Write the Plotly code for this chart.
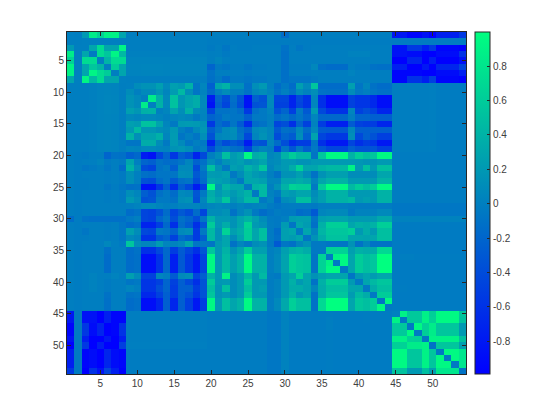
import numpy as np
import plotly.graph_objects as go

# Upper triangle of the matrix, one list per row, starting at the diagonal (values in hundredths)
r01 = [0, -1, 20, 85, 65, 90, 90, 30,
       -1, -1, -1, -1, -1, -1, -1, -1, -1, -1, -1,
       -1, -1, -1, -1, -1, -1, -1, -1, -1, -1, -15,
       -1, -1, -1, -1, -1, -1, -1, -1, -1, -1, -1, -1, -1, -1,
       -80, -80, -95, -95, -85, -100, -75, -75, -75, -55]
r02 = [-1, 0, 0, 0, 0, 0, 0,
       -1, -1, -1, -1, -1, -1, -1, -1, -1, -1, -1,
       -2, -2, -2, -2, -2, -2, -2, -2, -2, -2, -2,
       -2, -2, -2, -2, -2, -2, -2, -2, -2, -2, -2, -2, -2, -2,
       -3, -3, -3, -3, -3, -3, -3, -3, -3, -3]
r03 = [0, 30, 72, 30, 30, 92,
       -1, -1, -1, -1, -1, -1, -1, -1, -1, -1, -1,
       -4, -1, -7, -1, -2, -2, -1, -1, -1, -1, -10,
       -1, -7, -2, -1, -1, -1, -1, -1, -1, -1, -1, -1, -1, -1,
       -85, -85, -55, -55, -75, -55, -95, -95, -95, -100]
r04 = [-4, 72, 55, 92, 45,
       1, 1, 1, 1, 1, 1, 1, 1, 1, 1, 1,
       -1, 0, -4, -1, -1, -1, -1, -1, -1, -1, -12,
       -1, -1, -1, -1, -1, -1, -1, -1, 2, 2, 2, -1, -1, -1,
       -85, -85, -90, -90, -100, -100, -90, -90, -90, -60]
r05 = [0, 42, 72, 72,
       3, 3, 3, 3, 3, 3, 3, 3, 3, 3, 3,
       -1, 4, -1, -1, -1, -1, -1, -1, -1, -1, -12,
       -1, -1, -1, -1, -1, -1, -1, -1, -1, -1, -1, -1, -1, -1,
       -100, -100, -70, -70, -100, -75, -100, -100, -100, -85]
r06 = [0, 60, 30,
       4, 4, 5, 5, 5, 4, 4, 4, 4, 4, 4,
       -20, -4, -7, -2, -2, -7, -2, -2, -1, -1, -12,
       -2, -2, -2, 6, -12, -15, -15, -15, -1, -4, -4, -10, -12, -12,
       -75, -75, -100, -100, -80, -100, -70, -70, -70, -45]
r07 = [0, 30,
       3, 3, 4, 4, 4, 3, 3, 3, 3, 3, 3,
       -10, -1, -1, -1, -1, -2, -1, -1, -1, -1, -12,
       -1, -1, -1, 0, -1, -1, -1, -1, 3, -1, -1, -1, -1, -1,
       -95, -95, -95, -95, -100, -100, -90, -90, -90, -75]
r08 = [0,
       -1, -1, -1, -1, -1, -1, -1, -1, -1, -1, -1,
       -12, -4, -15, -4, -4, -7, -4, -4, -1, -1, -12,
       -7, -7, -7, -4, -1, -1, -1, -1, -1, -1, -1, -1, -1, -1,
       -95, -95, -60, -60, -75, -50, -95, -95, -95, -100]
r09 = [0, 10, 15, 15, 25, 8, 25, 20, 40, -8, 5,
       -25, 30, 40, 12, 12, -12, 12, 20, 0, -15, -5,
       -15, 25, 8, 55, -15, -15, -15, -15, 25, -8, 5, -10, -15, -15,
       -1, -1, -1, -1, -1, 0, -2, -2, -2, -2]
r10 = [0, 8, 8, 18, 5, 22, 45, 12, -8, 3,
       -18, 0, 10, 0, 0, -10, 5, 10, 3, -10, 0,
       -10, 10, 2, 12, -10, -12, -12, -12, 10, -5, 0, -8, -12, -12,
       -1, -1, -1, -1, -1, 0, -2, -2, -2, -2]
r11 = [0, 85, 38, 8, 52, 18, 28, 35, 8,
       -78, -20, -40, -12, -35, -85, -25, -35, 8, -45, -45,
       -72, -42, -60, 5, -62, -88, -88, -88, -48, -58, -58, -68, -88, -88,
       -1, -1, -1, -1, -1, 0, -2, -2, -2, -2]
r12 = [0, 40, 8, 52, 18, 28, 35, 8,
       -85, -25, -45, -15, -38, -85, -35, -32, 8, -48, -48,
       -72, -45, -60, 5, -62, -88, -88, -88, -48, -58, -58, -68, -88, -88,
       -1, -1, -1, -1, -1, 0, -2, -2, -2, -2]
r13 = [0, 5, 28, 12, 38, 10, 5,
       -45, -10, -10, -8, -15, -55, -12, -5, 3, -35, -20,
       -50, -5, -30, 22, -42, -60, -60, -60, 5, -48, -38, -48, -70, -70,
       -1, -1, -1, -1, -1, 0, -2, -2, -2, -2]
r14 = [0, 5, 8, 5, -5, 3,
       -22, -15, -5, -8, -8, -25, -5, -5, 0, -15, -8,
       -18, -8, -20, 5, -18, -18, -18, -18, 0, -20, -20, -25, -25, -25,
       -1, -1, -1, -1, -1, 0, -2, -2, -2, -2]
r15 = [-5, 20, 22, 20, 15,
       -55, -15, -25, -8, -28, -65, -15, -10, 0, -45, -38,
       -62, -22, -48, 2, -52, -75, -75, -75, -28, -48, -52, -52, -70, -70,
       -1, -1, -1, -1, -1, 0, -2, -2, -2, -2]
r16 = [0, -8, 8, 18,
       -25, -8, 8, 12, -12, -25, 8, 12, 5, -30, -12,
       -15, 8, -15, 8, -28, -30, -30, -30, 8, -25, -25, -25, -25, -25,
       -1, -1, -1, -1, -1, 0, -2, -2, -2, -2]
r17 = [0, -8, 12,
       -35, 5, 8, 10, -8, -42, 5, 15, 5, -40, -20,
       -28, 12, -25, 28, -45, -55, -55, -55, 12, -42, -25, -35, -50, -50,
       -1, -1, -1, -1, -1, 0, -2, -2, -2, -2]
r18 = [0, -5,
       -72, -22, -40, -30, -38, -78, -32, -35, 5, -15, -38,
       -62, -52, -52, -8, -62, -80, -80, -80, -45, -62, -52, -58, -80, -80,
       -1, -1, -1, -1, -1, 0, -2, -2, -2, -2]
r19 = [0,
       -42, -12, -5, -12, -15, -48, -5, 5, 0, -45, -8,
       -32, -5, -25, -5, -32, -45, -45, -45, -25, -35, -35, -35, -50, -50,
       -1, -1, -1, -1, -1, 0, -2, -2, -2, -2]
r20 = [0, 12, 50, 22, 30, 95, 35, 40, 5, 10, 40,
       60, 45, 45, -8, 55, 95, 95, 95, 40, 60, 50, 55, 95, 95,
       -2, -2, -2, -2, -2, -2, -2, -2, -2, -2]
r21 = [0, 15, 20, 25, 15, 20, 28, 8, 10, 20,
       20, 15, 15, 20, 20, 20, 20, 20, 20, 18, 15, 15, 20, 20,
       -2, -2, -2, -2, -2, -2, -2, -2, -2, -2]
r22 = [-5, 25, 20, 40, 30, 55, 5, 15, 20,
       35, 65, 30, 30, 40, 45, 45, 45, 90, 20, 50, 20, 50, 50,
       -2, -2, -2, -2, -2, -2, -2, -2, -2, -2]
r23 = [-5, 10, 30, 20, 15, 0, -10, 15,
       15, 25, 10, -10, 15, 25, 25, 25, 10, 10, 10, 10, 30, 30,
       -2, -2, -2, -2, -2, -2, -2, -2, -2, -2]
r24 = [-5, 30, 30, 25, 5, 5, 30,
       30, 35, 30, 5, 30, 40, 40, 40, 20, 20, 20, 20, 40, 40,
       -2, -2, -2, -2, -2, -2, -2, -2, -2, -2]
r25 = [-5, 40, 45, 0, 15, 40,
       65, 60, 60, -5, 60, 95, 95, 95, 45, 60, 50, 60, 95, 95,
       -2, -2, -2, -2, -2, -2, -2, -2, -2, -2]
r26 = [-5, 45, 2, -5, 25,
       20, 30, 30, 10, 25, 40, 40, 40, 20, 20, 20, 20, 40, 40,
       -2, -2, -2, -2, -2, -2, -2, -2, -2, -2]
r27 = [-5, 5, -15, 10,
       15, 50, 50, 15, 25, 40, 40, 40, 45, 20, 25, 20, 40, 40,
       -2, -2, -2, -2, -2, -2, -2, -2, -2, -2]
r28 = [-3, -8, -3,
       -2, -3, -3, -5, 0, 0, 0, 0, -2, -2, -2, -2, -2, -2,
       -6, -6, -6, -6, -6, -6, -6, -6, -6, -6]
r29 = [-2, -5,
       -5, -15, -12, -30, 5, 8, 8, 8, -5, 2, 2, 2, 8, 8,
       -6, -6, -6, -6, -6, -6, -6, -6, -6, -6]
r30 = [0,
       22, 25, 25, -8, 25, 28, 28, 28, 20, 20, 20, 20, 32, 32,
       2, 2, 2, 2, 2, 2, 2, 2, 2, 2]
r31 = [-8, 30, 22, -12, 38, 62, 62, 62, 30, 38, 35, 40, 62, 62,
       -3, -3, -3, -3, -3, -3, -3, -3, -3, -3]
r32 = [-5, 30, 5, 42, 55, 55, 55, 62, 20, 35, 20, 50, 50,
       -3, -3, -3, -3, -3, -3, -3, -3, -3, -3]
r33 = [-8, 15, 35, 52, 52, 52, 30, 30, 28, 30, 50, 50,
       -3, -3, -3, -3, -3, -3, -3, -3, -3, -3]
r34 = [-5, -5, -8, -8, -8, 15, -10, 5, -10, -10, -10,
       -3, -3, -3, -3, -3, -3, -3, -3, -3, -3]
r35 = [-5, 65, 65, 65, 25, 38, 35, 35, 70, 70,
       -3, -3, -3, -3, -3, -3, -3, -3, -3, -3]
r36 = [-5, 90, 95, 30, 60, 50, 55, 100, 100,
       -2, -1, -1, -2, -2, -2, -2, -2, -2, -2]
r37 = [-5, 95, 30, 60, 50, 55, 100, 100,
       -3, -3, -3, -3, -3, -3, -3, -3, -3, -3]
r38 = [-5, 30, 60, 50, 55, 100, 100,
       -3, -3, -3, -3, -3, -3, -3, -3, -3, -3]
r39 = [-8, 20, 30, 22, 30, 30,
       -3, -3, -3, -3, -3, -3, -3, -3, -3, -3]
r40 = [-5, 30, 45, 55, 55,
       -3, -3, -3, -3, -3, -3, -3, -3, -3, -3]
r41 = [-5, 35, 50, 50,
       -2, -2, -3, -3, -3, -3, -3, -3, -3, -3]
r42 = [-5, 60, 60,
       -3, -3, -3, -3, -3, -3, -3, -3, -3, -3]
r43 = [-8, 95,
       -3, -3, -3, -3, -3, -3, -3, -3, -3, -3]
r44 = [-5,
       -3, -3, -3, -3, -3, -3, -3, -3, -3, -3]
r45 = [0, 90, 58, 58, 88, 62, 95, 95, 95, 55]
r46 = [-5, 58, 58, 90, 65, 95, 95, 95, 52]
r47 = [-5, 95, 65, 85, 55, 55, 55, 20]
r48 = [-5, 62, 85, 55, 55, 55, 20]
r49 = [-5, 90, 90, 90, 90, 50]
r50 = [-10, 55, 55, 55, 25]
r51 = [-5, 95, 95, 80]
r52 = [-5, 95, 80]
r53 = [-5, 80]
r54 = [-10]

rows = [r01, r02, r03, r04, r05, r06, r07, r08, r09, r10, r11, r12, r13, r14,
        r15, r16, r17, r18, r19, r20, r21, r22, r23, r24, r25, r26, r27, r28,
        r29, r30, r31, r32, r33, r34, r35, r36, r37, r38, r39, r40, r41, r42,
        r43, r44, r45, r46, r47, r48, r49, r50, r51, r52, r53, r54]

axis_ticks = [5, 10, 15, 20, 25, 30, 35, 40, 45, 50]
cbar_ticks = [-0.8, -0.6, -0.4, -0.2, 0, 0.2, 0.4, 0.6, 0.8]
cbar_labels = ['-0.8', '-0.6', '-0.4', '-0.2', '0', '0.2', '0.4', '0.6', '0.8']

# mirror the triangle into a full matrix
n = len(rows)
z = np.zeros((n, n))
for i, row in enumerate(rows):
    assert len(row) == n - i, (i + 1, len(row))
    z[i, i:] = row
    z[i:, i] = row
z = z / 100

# Same linear blue to green ramp as the colourbar
winter = [[0, 'rgb(0,0,255)'], [1, 'rgb(0,255,128)']]

W, H = 560, 420
AX = '#262626'
TXT = '#404040'
# The page body pushes the figure down and right, so targets are offset by this much
PAD_X = 8
PAD_Y = 7

fig = go.Figure(go.Heatmap(
    z=z,
    x=list(range(1, n + 1)),
    y=list(range(1, n + 1)),
    colorscale=winter,
    zmin=-0.99,
    zmax=0.998,
    colorbar=dict(
        x=(475 - PAD_X) / W,
        xanchor='left',
        xpad=0,
        y=1 - (31 - PAD_Y) / H,
        yanchor='top',
        ypad=0,
        len=342 / H,
        thickness=15,
        outlinecolor=AX,
        outlinewidth=1,
        ticks='inside',
        ticklen=3,
        tickcolor=AX,
        tickvals=cbar_ticks,
        ticktext=cbar_labels,
        tickfont=dict(family='Liberation Sans', size=10, color=TXT),
    ),
))

fig.update_layout(
    width=W,
    height=H,
    autosize=False,
    margin=dict(l=0, r=0, t=0, b=0),
    plot_bgcolor='white',
    paper_bgcolor='white',
    font=dict(family='Liberation Sans', size=10, color=TXT),
)
fig.update_xaxes(
    domain=[(67 - PAD_X) / W, (466 - PAD_X) / W],
    range=[0.5, 54.5],
    tickvals=axis_ticks,
    ticks='inside',
    ticklen=4,
    tickcolor=AX,
    showgrid=False,
    zeroline=False,
    showline=True,
    linecolor=AX,
    linewidth=1,
    mirror='ticks',
)
fig.update_yaxes(
    domain=[1 - (373 - PAD_Y) / H, 1 - (31 - PAD_Y) / H],
    range=[54.5, 0.5],
    tickvals=axis_ticks,
    ticks='inside',
    ticklen=4,
    tickcolor=AX,
    showgrid=False,
    zeroline=False,
    showline=True,
    linecolor=AX,
    linewidth=1,
    mirror='ticks',
)

fig.write_html("out.html")
